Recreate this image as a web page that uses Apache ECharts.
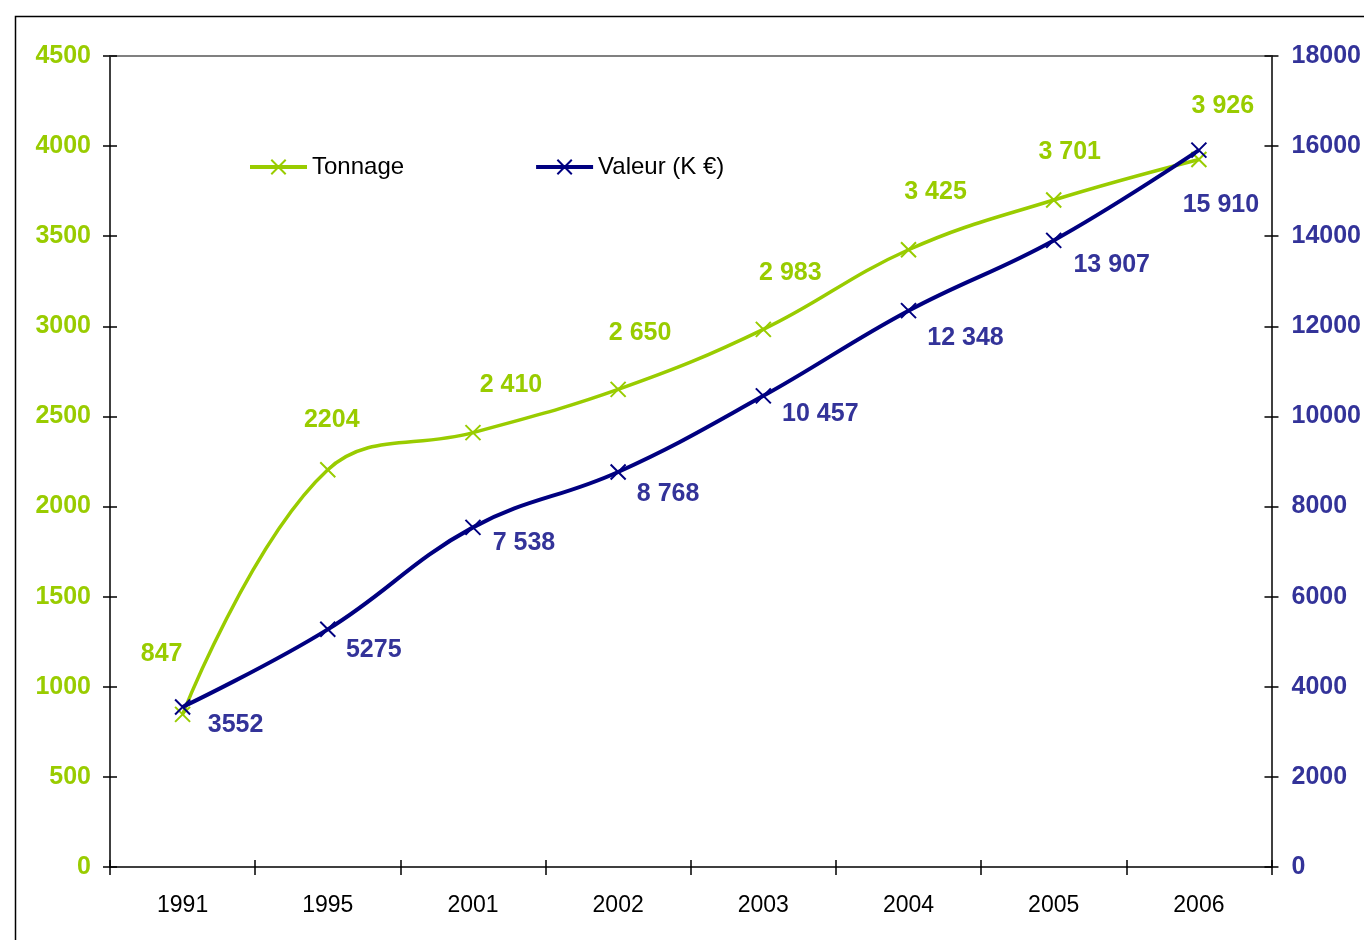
<!DOCTYPE html>
<html>
<head>
<meta charset="utf-8">
<script src="https://cdn.jsdelivr.net/npm/echarts@6/dist/echarts.min.js"></script>
<style>html,body{margin:0;padding:0;background:#fff;}#c{width:1364px;height:940px;}</style>
</head>
<body>
<div id="c"></div>
<script>
// ---- data ----
const categories = ['1991', '1995', '2001', '2002', '2003', '2004', '2005', '2006'];
const tonnage = [847, 2204, 2410, 2650, 2983, 3425, 3701, 3926];
const valeur = [3552, 5275, 7538, 8768, 10457, 12348, 13907, 15910];
const tonnageLabels = ['847', '2204', '2 410', '2 650', '2 983', '3 425', '3 701', '3 926'];
const valeurLabels = ['3552', '5275', '7 538', '8 768', '10 457', '12 348', '13 907', '15 910'];
const leftTicks = { min: 0, max: 4500, interval: 500 };
const rightTicks = { min: 0, max: 18000, interval: 2000 };

// ---- style ----
const FONT = '"Liberation Sans", Arial, Helvetica, sans-serif';
const GREEN = '#99CC00';
const NAVY = '#000080';
const BLUE_TXT = '#333399';
const tonNudge = [[-21,-60],[4,-50],[38,-48],[22,-56],[27,-56],[27,-58],[16,-48],[24,-53]];
const valNudge = [[53,18],[46,21],[51,16],[50,22],[57,18],[57,27],[58,25],[22,55]];
const CROSS = 'path://M0,0L10,10M10,0L0,10';

function buildData(vals, nudges) {
  return vals.map((v, i) => ({ value: v, label: { offset: nudges[i] } }));
}

const chart = echarts.init(document.getElementById('c'), null, { renderer: 'canvas' });
const axisLineBlack = { show: true, onZero: false, lineStyle: { color: '#000', width: 1.5 } };
const plain = v => String(v);

const option = {
  animation: false,
  backgroundColor: '#fff',
  textStyle: { fontFamily: FONT },
  graphic: [{
    type: 'rect', left: 13, top: 14, silent: true,
    shape: { x: 0, y: 0, width: 1400, height: 1000 },
    style: { fill: 'none', stroke: '#000', lineWidth: 1.5 }
  }],
  grid: { left: 110, right: 92, top: 56, bottom: 73, containLabel: false },
  legend: {
    left: 248, top: 155, padding: 0, itemWidth: 57, itemHeight: 18, itemGap: 130,
    textStyle: { fontFamily: FONT, fontSize: 24, color: '#000' },
    lineStyle: { width: 4 },
    data: ['Tonnage', 'Valeur (K €)']
  },
  xAxis: [
    { type: 'category', data: categories, position: 'bottom', boundaryGap: true,
      axisLine: axisLineBlack,
      axisTick: { show: true, inside: false, length: 8, lineStyle: { color: '#000', width: 1.5 } },
      axisLabel: { fontFamily: FONT, fontSize: 23, color: '#000', margin: 27 },
      splitLine: { show: false } },
    { type: 'category', data: categories, position: 'bottom', boundaryGap: true,
      axisLine: { show: false },
      axisTick: { show: true, inside: true, length: 7, lineStyle: { color: '#000', width: 1.5 } },
      axisLabel: { show: false }, splitLine: { show: false } },
    { type: 'category', data: categories, position: 'top', boundaryGap: true,
      axisLine: { show: true, onZero: false, lineStyle: { color: '#808080', width: 2 } },
      axisTick: { show: false }, axisLabel: { show: false }, splitLine: { show: false } }
  ],
  yAxis: [
    { type: 'value', position: 'left', min: leftTicks.min, max: leftTicks.max, interval: leftTicks.interval,
      axisLine: axisLineBlack,
      axisTick: { show: true, inside: false, length: 7, lineStyle: { color: '#000', width: 1.5 } },
      axisLabel: { fontFamily: FONT, fontSize: 25, fontWeight: 'bold', color: GREEN, margin: 19, formatter: plain },
      splitLine: { show: false } },
    { type: 'value', position: 'right', min: rightTicks.min, max: rightTicks.max, interval: rightTicks.interval,
      axisLine: axisLineBlack,
      axisTick: { show: true, inside: false, length: 7, lineStyle: { color: '#000', width: 1.5 } },
      axisLabel: { fontFamily: FONT, fontSize: 25, fontWeight: 'bold', color: BLUE_TXT, margin: 20, formatter: plain },
      splitLine: { show: false } },
    { type: 'value', position: 'left', min: leftTicks.min, max: leftTicks.max, interval: leftTicks.interval,
      axisLine: { show: false },
      axisTick: { show: true, inside: true, length: 7, lineStyle: { color: '#000', width: 1.5 } },
      axisLabel: { show: false }, splitLine: { show: false } },
    { type: 'value', position: 'right', min: rightTicks.min, max: rightTicks.max, interval: rightTicks.interval,
      axisLine: { show: false },
      axisTick: { show: true, inside: true, length: 7, lineStyle: { color: '#000', width: 1.5 } },
      axisLabel: { show: false }, splitLine: { show: false } }
  ],
  series: [
    { name: 'Tonnage', type: 'line', xAxisIndex: 0, yAxisIndex: 0,
      data: buildData(tonnage, tonNudge), smooth: 0.4,
      symbol: CROSS, symbolSize: 15,
      lineStyle: { color: GREEN, width: 3.5 },
      itemStyle: { color: GREEN, borderColor: GREEN, borderWidth: 2 },
      label: { show: true, position: 'inside', fontFamily: FONT, fontSize: 25, fontWeight: 'bold', color: GREEN,
        formatter: p => tonnageLabels[p.dataIndex] },
      emphasis: { disabled: true }, z: 3 },
    { name: 'Valeur (K €)', type: 'line', xAxisIndex: 0, yAxisIndex: 1,
      data: buildData(valeur, valNudge), smooth: 0.4,
      symbol: CROSS, symbolSize: 15,
      lineStyle: { color: NAVY, width: 4 },
      itemStyle: { color: NAVY, borderColor: NAVY, borderWidth: 2 },
      label: { show: true, position: 'inside', fontFamily: FONT, fontSize: 25, fontWeight: 'bold', color: BLUE_TXT,
        formatter: p => valeurLabels[p.dataIndex] },
      emphasis: { disabled: true }, z: 4 }
  ]
};
chart.setOption(option);
</script>
</body>
</html>
